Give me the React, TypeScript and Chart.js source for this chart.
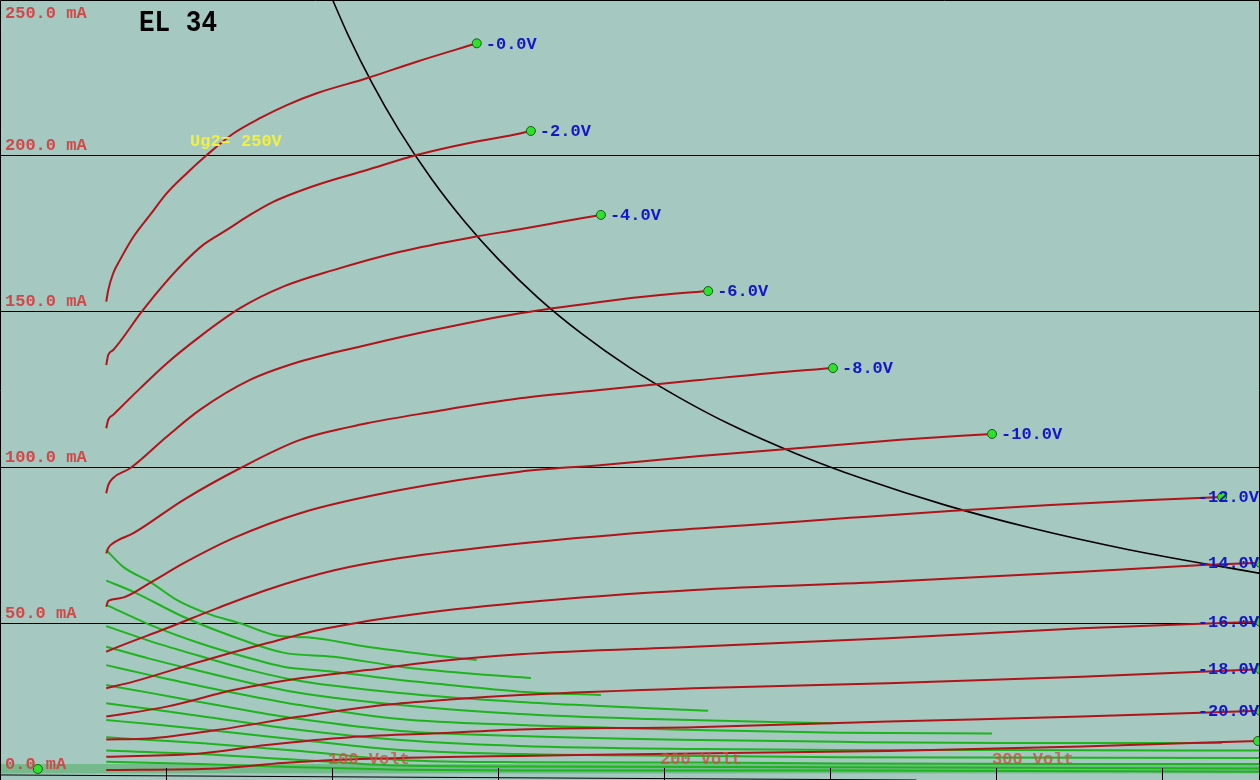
import React, { useEffect, useRef } from "react";
import { Chart, registerables } from "chart.js";
Chart.register(...registerables);

// ---- axes (volts / milliamps) ----
const X_MIN = 0;
const X_MAX = 379.52;
const Y_MIN = -0.32;
const Y_MAX = 249.68;

const gridLevels = [50, 100, 150, 200];
const yTickValues = [0, 50, 100, 150, 200, 250];
const yTickLabels = ["0.0 mA", "50.0 mA", "100.0 mA", "150.0 mA", "200.0 mA", "250.0 mA"];
const xTickValues = [50, 100, 150, 200, 250, 300, 350];
const xLabelValues = [100, 200, 300];
const xLabels = ["100 Volt", "200 Volt", "300 Volt"];
const title = "EL 34";
const screenLabel = "Ug2= 250V";
const gridLabels = ["-0.0V", "-2.0V", "-4.0V", "-6.0V", "-8.0V", "-10.0V", "-12.0V", "-14.0V", "-16.0V", "-18.0V", "-20.0V", ""];

// ---- anode current curves (red) ----
const redV0 = [32, 32.6, 34.1, 36.1, 40.2, 45.2, 50.2, 56.2, 62.3, 70.3, 78.3, 86.4, 95.4, 110.5, 125.5, 143.6];
const redI0 = [153.0, 156.7, 162.1, 166.3, 173.8, 180.8, 187.7, 194.1, 200.0, 206.9, 211.8, 216.0, 219.8, 224.6, 229.9, 235.8];
const redV2 = [32, 32.6, 34.1, 42.7, 49.2, 55.2, 61.2, 68.3, 75.3, 82.3, 95.4, 110.5, 125.5, 140.6, 156.6, 159.9];
const redI2 = [132.7, 135.9, 137.5, 149.8, 158.3, 165.3, 171.2, 176.0, 180.8, 185.0, 190.4, 195.2, 200.0, 203.7, 206.9, 207.7];
const redV4 = [32, 32.6, 34.1, 42.2, 50.2, 60.2, 72.3, 85.3, 100.4, 120.5, 143.1, 156.6, 168.7, 181.0];
const redI4 = [112.4, 115.1, 116.7, 125.2, 133.2, 141.8, 150.9, 157.8, 163.1, 169.0, 173.8, 176.2, 178.5, 180.8];
const redV6 = [32, 32.6, 34.1, 39.2, 50.2, 60.2, 75.3, 90.4, 110.5, 130.5, 156.6, 180.7, 198.8, 213.3];
const redI6 = [91.6, 94.2, 96.5, 99.6, 109.7, 118.3, 127.9, 133.8, 139.1, 143.9, 149.3, 152.9, 155.1, 156.4];
const redV8 = [32, 32.6, 34.1, 40.2, 55.2, 72.3, 90.4, 110.5, 130.5, 156.6, 180.7, 210.8, 234.9, 250.9];
const redI8 = [72.3, 74.0, 75.6, 78.8, 89.4, 99.6, 108.7, 114.0, 117.7, 122.0, 124.7, 127.9, 130.4, 131.7];
const redV10 = [32, 32.6, 36.1, 45.2, 55.2, 70.3, 90.4, 120.5, 156.6, 180.7, 210.8, 241.0, 271.1, 298.8];
const redI10 = [55.2, 57.1, 57.9, 62.9, 69.1, 77.2, 85.2, 92.6, 98.5, 100.6, 103.5, 106.1, 108.7, 110.6];
const redV12 = [32, 36.1, 50.2, 65.3, 80.3, 100.4, 120.5, 156.6, 195.8, 225.9, 256.0, 286.1, 316.3, 346.4, 368.1];
const redI12 = [40.8, 42.6, 48.3, 54.7, 60.6, 66.8, 70.8, 75.5, 79.2, 81.4, 83.7, 85.9, 87.8, 89.4, 90.4];
const redV14 = [32, 40.2, 60.2, 80.3, 98.4, 120.5, 156.6, 209.0, 267.5, 325.8, 362.3, 379.5];
const redI14 = [29.1, 31.2, 37.6, 43.5, 48.3, 52.2, 56.5, 60.6, 63.2, 66.4, 68.6, 69.3];
const redV16 = [32, 50.2, 70.3, 90.4, 110.5, 130.5, 156.6, 209.0, 267.5, 325.8, 379.5];
const redI16 = [20.0, 23.2, 28.5, 32.3, 34.9, 37.6, 40.0, 42.4, 45.1, 48.3, 50.4];
const redV18 = [32, 45.2, 65.3, 90.4, 115.5, 135.5, 156.6, 209.0, 267.5, 325.8, 379.5];
const redI18 = [12.7, 13.0, 15.7, 20.0, 23.7, 25.5, 26.9, 29.1, 30.7, 32.8, 35.2];
const redV20 = [32, 60.2, 80.3, 105.4, 130.5, 156.6, 209.0, 267.5, 325.8, 379.5];
const redI20 = [7.1, 8.2, 10.9, 13.4, 14.6, 15.9, 16.6, 18.4, 20.0, 21.9];
const redV22 = [32, 65.3, 85.2, 100.4, 130.5, 156.6, 209.0, 267.5, 325.8, 378.9];
const redI22 = [2.9, 3.4, 5.1, 6.1, 7.0, 7.4, 8.2, 9.0, 10.4, 12.2];

// ---- screen grid current curves (green) ----
const grnV0 = [32, 37.1, 45.2, 53.2, 62.3, 72.3, 84.3, 92.4, 110.5, 130.5, 143.6];
const grnI0 = [73.4, 68.0, 63.2, 57.4, 53.1, 49.9, 45.8, 45.4, 42.4, 39.7, 38.1];
const grnV2 = [32, 40.2, 55.2, 70.3, 85.3, 100.4, 120.5, 140.6, 159.9];
const grnI2 = [63.6, 60.0, 52.0, 45.6, 40.5, 39.2, 36.0, 33.9, 32.4];
const grnV4 = [32, 45.2, 60.2, 75.3, 85.3, 100.4, 120.5, 140.6, 156.6, 181.0];
const grnI4 = [55.8, 49.4, 43.5, 38.7, 36.0, 34.4, 31.7, 29.6, 28.0, 26.9];
const grnV6 = [32, 45.2, 60.2, 75.3, 90.4, 120.5, 156.6, 180.7, 213.3];
const grnI6 = [49.0, 44.2, 39.4, 34.9, 31.4, 27.6, 24.7, 23.4, 21.9];
const grnV8 = [32, 45.2, 60.2, 75.3, 90.4, 120.5, 156.6, 195.8, 250.9];
const grnI8 = [42.4, 38.5, 34.6, 30.8, 27.6, 23.7, 20.8, 19.2, 17.9];
const grnV10 = [32, 45.2, 60.2, 75.3, 90.4, 120.5, 156.6, 210.8, 253.0, 298.8];
const grnI10 = [36.5, 33.3, 29.8, 26.6, 23.7, 19.2, 17.3, 15.7, 14.8, 14.6];
const grnV12 = [32, 45.2, 60.2, 75.3, 90.4, 120.5, 156.6, 210.8, 253.0, 301.2, 368.1];
const grnI12 = [30.1, 27.6, 24.7, 21.8, 19.2, 15.4, 13.8, 12.5, 11.9, 11.5, 11.5];
const grnV14 = [32, 45.2, 60.2, 90.4, 120.5, 156.6, 210.8, 253.0, 301.2, 379.5];
const grnI14 = [24.3, 22.4, 20.2, 15.7, 12.5, 10.6, 9.6, 9.3, 9.3, 9.1];
const grnV16 = [32, 45.2, 60.2, 90.4, 120.5, 156.6, 210.8, 253.0, 379.5];
const grnI16 = [18.9, 17.6, 16.0, 12.5, 9.3, 8.0, 7.4, 7.0, 6.7];
const grnV18 = [32, 45.2, 60.2, 90.4, 120.5, 156.6, 210.8, 253.0, 379.5];
const grnI18 = [13.4, 12.5, 11.5, 9.0, 6.1, 5.4, 5.3, 5.0, 4.8];
const grnV20 = [32, 60.2, 90.4, 120.5, 156.6, 253.0, 379.5];
const grnI20 = [9.1, 8.0, 6.1, 4.3, 4.0, 3.75, 3.4];
const grnV22 = [32, 60.2, 90.4, 120.5, 156.6, 253.0, 379.5];
const grnI22 = [5.5, 4.8, 3.8, 3.0, 2.7, 2.7, 2.3];

// ---- max dissipation curve (black) ----
const powV = [98, 105, 112, 120, 130, 140, 150, 162, 175, 190, 205, 220, 240, 260, 285, 310, 340, 380];
const powI = [255.1, 238.1, 223.2, 208.3, 192.3, 178.6, 166.7, 154.3, 142.9, 131.6, 122.0, 113.6, 104.2, 96.2, 87.7, 80.6, 73.5, 65.8];

// ---- bottom base line, origin marker, bottom band ----
const baseV = [0, 276];
const baseI = [1.3, -0.32];
const markerV = [11.4];
const markerI = [3.2];
const bandI = [1.8, 4.8];

const redSeries = [
  [redV0, redI0], [redV2, redI2], [redV4, redI4], [redV6, redI6], [redV8, redI8], [redV10, redI10],
  [redV12, redI12], [redV14, redI14], [redV16, redI16], [redV18, redI18], [redV20, redI20], [redV22, redI22],
];
const greenSeries = [
  [grnV0, grnI0], [grnV2, grnI2], [grnV4, grnI4], [grnV6, grnI6], [grnV8, grnI8], [grnV10, grnI10],
  [grnV12, grnI12], [grnV14, grnI14], [grnV16, grnI16], [grnV18, grnI18], [grnV20, grnI20], [grnV22, grnI22],
];

const BG = "rgb(165,200,192)";
const RED = "#b0141a";
const GREEN = "#1db41d";
const DOT = "#2fe02f";
const MONO = '"Liberation Mono", "DejaVu Sans Mono", monospace';

function pts(xs: number[], ys: number[]) {
  return xs.map((x, i) => ({ x, y: ys[i] }));
}

const decor = {
  id: "decor",
  beforeDraw(chart: any) {
    const { ctx, width, height } = chart;
    const y = chart.scales.y;
    ctx.save();
    ctx.fillStyle = BG;
    ctx.fillRect(0, 0, width, height);
    const b0 = y.getPixelForValue(bandI[1]);
    const b1 = y.getPixelForValue(bandI[0]);
    ctx.fillStyle = "rgb(116,186,140)";
    ctx.fillRect(0, b0, width, b1 - b0);
    ctx.strokeStyle = "#000";
    ctx.lineWidth = 1;
    gridLevels.forEach((v) => {
      const py = Math.round(y.getPixelForValue(v)) + 0.5;
      ctx.beginPath();
      ctx.moveTo(0, py);
      ctx.lineTo(width, py);
      ctx.stroke();
    });
    ctx.restore();
  },
  afterDatasetsDraw(chart: any) {
    const { ctx, width, height } = chart;
    const x = chart.scales.x;
    const y = chart.scales.y;
    ctx.save();
    // bottom ticks
    ctx.strokeStyle = "#000";
    ctx.lineWidth = 1;
    xTickValues.forEach((v) => {
      const px = Math.round(x.getPixelForValue(v)) + 0.5;
      ctx.beginPath();
      ctx.moveTo(px, height - 12);
      ctx.lineTo(px, height);
      ctx.stroke();
    });
    // border top/left/right
    ctx.beginPath();
    ctx.moveTo(0.5, height);
    ctx.lineTo(0.5, 0.5);
    ctx.lineTo(width - 0.5, 0.5);
    ctx.lineTo(width - 0.5, height);
    ctx.stroke();
    // y labels
    ctx.font = `bold 17px ${MONO}`;
    ctx.textBaseline = "alphabetic";
    ctx.textAlign = "left";
    ctx.fillStyle = "#d04848";
    yTickValues.forEach((v, i) => {
      const py = Math.min(769, Math.max(18, y.getPixelForValue(v) - 5));
      ctx.fillText(yTickLabels[i], 5, py);
    });
    // x labels
    ctx.fillStyle = "rgba(196,84,60,0.8)";
    xLabelValues.forEach((v, i) => {
      ctx.fillText(xLabels[i], x.getPixelForValue(v) - 4, 764);
    });
    // screen voltage label
    ctx.fillStyle = "#f2f040";
    ctx.fillText(screenLabel, 190, 146);
    // grid voltage labels
    ctx.fillStyle = "#1616c8";
    ctx.textBaseline = "middle";
    redSeries.forEach((s, i) => {
      if (!gridLabels[i]) return;
      const [xs, ys] = s;
      const n = xs.length - 1;
      const px = x.getPixelForValue(xs[n]);
      const py = y.getPixelForValue(ys[n]);
      const w = ctx.measureText(gridLabels[i]).width;
      ctx.fillText(gridLabels[i], Math.min(px + 9, width - 1 - w), py + 1);
    });
    // title
    ctx.fillStyle = "#000";
    ctx.textBaseline = "alphabetic";
    ctx.font = `bold 26px ${MONO}`;
    ctx.translate(139, 30.5);
    ctx.scale(1, 1.15);
    ctx.fillText(title, 0, 0);
    ctx.restore();
  },
};

export default function App() {
  const ref = useRef<HTMLCanvasElement>(null);
  useEffect(() => {
    document.body.style.margin = "0";
    const datasets: any[] = [];
    datasets.push({
      data: pts(markerV, markerI),
      showLine: false,
      pointRadius: 4.5,
      pointBackgroundColor: DOT,
      pointBorderColor: "#106010",
      pointBorderWidth: 1,
      order: 0,
    });
    redSeries.forEach(([xs, ys]) => {
      const last = xs.length - 1;
      datasets.push({
        data: pts(xs, ys),
        showLine: true,
        borderColor: RED,
        borderWidth: 2,
        cubicInterpolationMode: "monotone",
        pointRadius: (c: any) => (c.dataIndex === last ? 4.5 : 0),
        pointBackgroundColor: DOT,
        pointBorderColor: "#106010",
        pointBorderWidth: 1,
        order: 1,
      });
    });
    datasets.push({
      data: pts(powV, powI),
      showLine: true,
      borderColor: "#000",
      borderWidth: 1.6,
      cubicInterpolationMode: "monotone",
      pointRadius: 0,
      order: 2,
    });
    greenSeries.forEach(([xs, ys]) => {
      datasets.push({
        data: pts(xs, ys),
        showLine: true,
        borderColor: GREEN,
        borderWidth: 2,
        cubicInterpolationMode: "monotone",
        pointRadius: 0,
        order: 3,
      });
    });
    datasets.push({
      data: pts(baseV, baseI),
      showLine: true,
      borderColor: "#000",
      borderWidth: 1,
      pointRadius: 0,
      order: 4,
    });

    const chart = new Chart(ref.current as HTMLCanvasElement, {
      type: "scatter",
      data: { datasets },
      options: {
        responsive: false,
        maintainAspectRatio: false,
        animation: false,
        devicePixelRatio: 1,
        events: [],
        layout: { padding: 0, autoPadding: false },
        plugins: { legend: { display: false }, tooltip: { enabled: false } },
        scales: {
          x: { type: "linear", min: X_MIN, max: X_MAX, display: false },
          y: { type: "linear", min: Y_MIN, max: Y_MAX, display: false },
        },
      },
      plugins: [decor],
    } as any);
    return () => chart.destroy();
  }, []);
  return <canvas ref={ref} width={1260} height={780} style={{ display: "block" }} />;
}
